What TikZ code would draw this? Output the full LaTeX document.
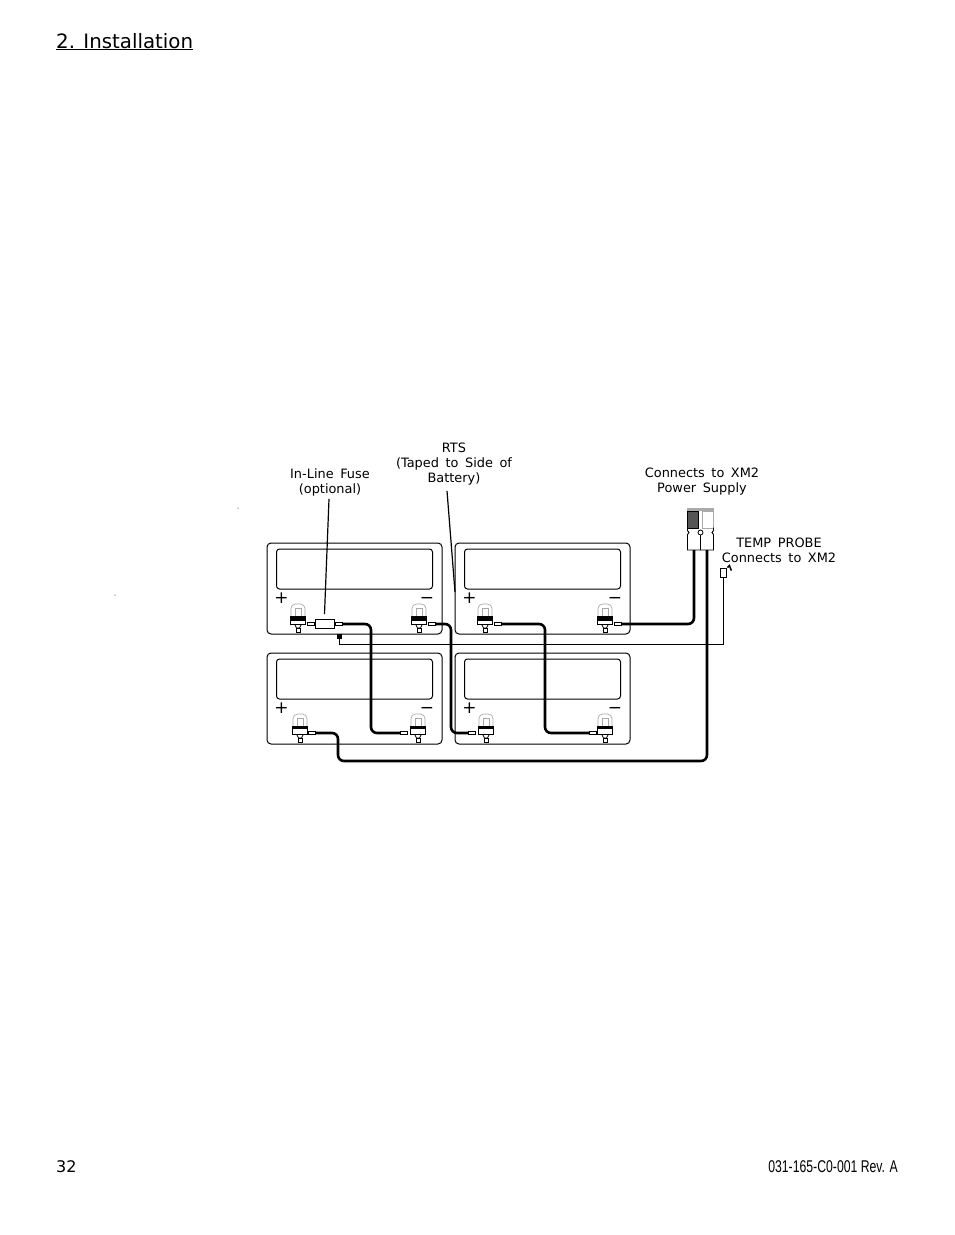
\documentclass[tikz,border=0pt]{standalone}
\usepackage{fontspec}
\setmainfont{DejaVu Sans}[WordSpace=1.6]
\newfontfamily\headfont{DejaVu Sans}
\newfontfamily\partfont[FakeStretch=0.72]{Liberation Sans}
\usepackage{xcolor}
\usetikzlibrary{positioning}
\definecolor{plugDark}{HTML}{555555}
\definecolor{plugGray}{HTML}{AAAAAA}
\tikzset{>=latex}
\tikzset{battery-line/.style={line width=1pt}}
\tikzset{battery-case/.style={draw, battery-line, rounded corners=4pt, inner sep=0, minimum width=175pt, minimum height=91pt}}
\tikzset{battery-panel/.style={draw, battery-line, rounded corners=3pt, inner sep=0, minimum width=156pt, minimum height=40pt}}
\tikzset{sign-label/.style={inner sep=0, font=\fontsize{17}{17}\selectfont}}
\tikzset{part-label/.style={align=center, inner sep=0, font=\fontsize{12.9}{15}\selectfont}}
\tikzset{lug/.style={draw, fill=white, line width=0.7pt, inner sep=0, minimum width=7pt, minimum height=3.5pt}}
\tikzset{stud/.style={draw, fill=white, line width=0.8pt, inner sep=0, minimum width=4pt, minimum height=4.5pt}}
\tikzset{wire/.style={line width=2.6pt, rounded corners=6pt}}
\tikzset{thin-wire/.style={line width=0.8pt}}
\tikzset{leader/.style={line width=1.2pt}}
% case centre, then its panel and signs
\newcommand{\battery}[2]{
    \node[battery-case] (#1) at (#2) {};
    \node[battery-panel, below=6pt of #1.north] (#1panel) {};
    \node[sign-label] (#1plus) at ([xshift=-73pt, yshift=-9.5pt]#1.center) {+};
    \node[sign-label] (#1minus) at ([xshift=72.5pt, yshift=-11.5pt]#1.center) {−};
}
% name, top of nut, lug offset x, lug offset y, black band height
\newcommand{\terminal}[5]{
    \coordinate (#1) at (#2);
    \draw[plugGray, line width=0.7pt, rounded corners=4.5pt] ([xshift=-7pt]#1) -- ++(0,-12) -- ++(14,0) -- ++(0,12);
    \draw[plugGray, line width=0.6pt] ([xshift=-3pt]#1) -- ++(0,-8) -- ++(6,0) -- ++(0,8);
    \draw[line width=0.8pt, fill=white] ([xshift=-3.5pt, yshift=-8pt]#1) -- ++(2,4) -- ++(3,0) -- ++(2,-4);
    \draw[draw=black, fill=white, line width=0.8pt] ([xshift=-7.5pt]#1) rectangle ([xshift=7.5pt, yshift=-8pt]#1);
    \fill ([xshift=-7.5pt]#1) rectangle ([xshift=7.5pt, yshift=-#5]#1);
    \node[stud] (#1stud) at ([yshift=-14.5pt]#1) {};
    \node[lug] (#1lug) at ([xshift=#3, yshift=-#4]#1) {};
}

\begin{document}
\begin{tikzpicture}[x=1pt, y=-1pt]
    \useasboundingbox[fill=white] (0,0) rectangle (954,1235);

    \node[anchor=base west, inner sep=0, font=\headfont\fontsize{19.8}{19}\selectfont] (heading) at (56,48) {\underline{2. Installation}};
    \node[anchor=base west, inner sep=0, font=\headfont\fontsize{16}{16}\selectfont] (pagenum) at (56,1172.5) {32};
    \node[anchor=base east, inner sep=0, font=\partfont\fontsize{17}{17}\selectfont] (partnum) at (898,1172) {031-165-C0-001 Rev. A};

    \battery{topleft}{354.5,588.5}
    \battery{topright}{542.5,588.5}
    \battery{botleft}{354.5,698.5}
    \battery{botright}{542.5,698.5}

    \terminal{tlplus}{298,616}{13pt}{8pt}{5pt}
    \terminal{tlminus}{419,616}{13pt}{8pt}{5pt}
    \terminal{trplus}{485,616}{13pt}{8pt}{5pt}
    \terminal{trminus}{605,616}{13pt}{8pt}{5pt}
    \terminal{blplus}{300,726}{12pt}{7pt}{2.5pt}
    \terminal{blminus}{418,726}{-14pt}{7pt}{2.5pt}
    \terminal{brplus}{486,726}{-14pt}{7pt}{2.5pt}
    \terminal{brminus}{605,726}{-12pt}{7pt}{2.5pt}

    % fuse sits on the lead of the first terminal
    \node[lug, minimum width=19pt, minimum height=9pt, line width=0.9pt, right=0pt of tlpluslug] (fuse) {};
    \node[lug, right=0pt of fuse] (fuselug) {};

    % power plug
    \node[fill=plugGray, inner sep=0, minimum width=27pt, minimum height=3pt] (plugtop) at (700.5,509) {};
    \node[draw, fill=plugDark, line width=0.9pt, inner sep=0, minimum width=11pt, minimum height=17pt, below left=0pt and 1.5pt of plugtop.south] (plugleft) {};
    \node[draw=plugGray, fill=white, line width=1.3pt, inner sep=0, minimum width=11pt, minimum height=17pt, below right=0pt and 1.5pt of plugtop.south] (plugright) {};
    \draw[line width=0.9pt] (687.5,527.5) -- ++(0,3) -- ++(1.5,2) -- ++(-1.5,2) -- (687.5,550) -- (713.5,550) -- (713.5,534.5) -- ++(-1.5,-2) -- ++(1.5,-2) -- (713.5,527.5);
    \node[draw, circle, fill=white, line width=0.8pt, inner sep=0, minimum size=5pt] (plugpin) at (700.5,532.5) {};
    \coordinate (plugA) at (694,550);
    \coordinate (plugB) at (707,550);
    \draw[line width=0.8pt] (plugpin) -- (plugpin |- plugA);

    % temp probe
    \node[draw, fill=white, line width=0.8pt, inner sep=0, minimum width=6pt, minimum height=9pt] (probe) at (723.5,572.5) {};
    \draw[line width=1.5pt] ([xshift=0.5pt]probe.north east) -- ++(2,-2) -- ++(2,5);
    \node[fill, inner sep=0, minimum size=5pt] (probeend) at (339,636) {};
    \draw[thin-wire] (probeend) |- (723,644) -- (probe.south -| 723,0);

    \coordinate (railA) at (371,0);
    \coordinate (railB) at (451,0);
    \coordinate (railC) at (545,0);
    \coordinate (under) at (338,761);

    \draw[wire] (fuselug.east) -| (railA |- blminuslug) -- (blminuslug.west);
    \draw[wire] (tlminuslug.east) -| (railB |- brpluslug) -- (brpluslug.west);
    \draw[wire] (trpluslug.east) -| (railC |- brminuslug) -- (brminuslug.west);
    \draw[wire] (trminuslug.east) -| (plugA);
    \draw[wire] (blpluslug.east) -| (under) -| (plugB);

    % labels and their leaders
    \node[part-label] (fuselabel) at (330,482) {In-Line Fuse\\(optional)};
    \node[part-label] (rtslabel) at (454,464.5) {RTS\\(Taped to Side of\\Battery)};
    \node[part-label] (supplylabel) at (702,481.5) {Connects to XM2\\Power Supply};
    \node[part-label] (probelabel) at (779,550.5) {TEMP PROBE\\Connects to XM2};
    \coordinate (fusetip) at (324.5,614);
    \coordinate (rtstip) at (455,592);
    \draw[leader] (fuselabel.south -| 329,0) ++(0,3) -- (fusetip);
    \draw[leader] (rtslabel.south -| 447,0) ++(0,5) -- (rtstip);

    % stray specks
    \fill (238,508) circle (0.5);
    \fill (115,595) circle (0.5);
\end{tikzpicture}
\end{document}
